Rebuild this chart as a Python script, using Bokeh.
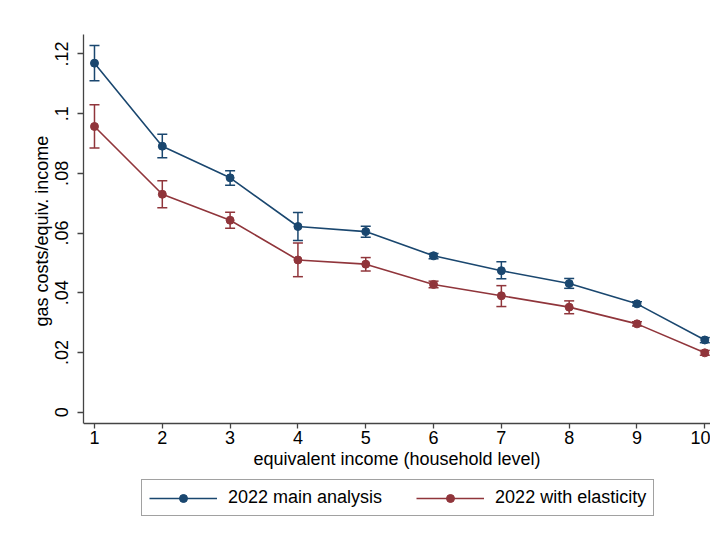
from bokeh.plotting import figure
from bokeh.models import (ColumnDataSource, Range1d, FixedTicker, Whisker,
                          TeeHead, Legend, LegendItem, Title)
from bokeh.embed import file_html
from bokeh.resources import INLINE

# income deciles
deciles = [1, 2, 3, 4, 5, 6, 7, 8, 9, 10]

# 2022 main analysis: mean and confidence interval
main_mean = [0.1169, 0.0891, 0.0785, 0.0622, 0.0605, 0.0524, 0.0474, 0.0431, 0.0363, 0.0242]
main_lo = [0.1110, 0.0852, 0.0760, 0.0575, 0.0586, 0.0514, 0.0447, 0.0415, 0.0356, 0.0233]
main_hi = [0.1228, 0.0931, 0.0809, 0.0669, 0.0623, 0.0532, 0.0504, 0.0448, 0.0370, 0.0250]

# 2022 with elasticity
elas_mean = [0.0957, 0.0730, 0.0643, 0.0510, 0.0496, 0.0428, 0.0390, 0.0352, 0.0296, 0.0199]
elas_lo = [0.0885, 0.0685, 0.0616, 0.0454, 0.0473, 0.0417, 0.0354, 0.0330, 0.0289, 0.0191]
elas_hi = [0.1030, 0.0775, 0.0670, 0.0567, 0.0518, 0.0439, 0.0424, 0.0373, 0.0303, 0.0207]

y_ticks = [0, 0.02, 0.04, 0.06, 0.08, 0.1, 0.12]
y_tick_labels = ["0", ".02", ".04", ".06", ".08", ".1", ".12"]

FONT = "Liberation Sans"
AXIS_COL = "#444444"
Y_BOTTOM, Y_TOP = -0.0037, 0.1265

# the frame runs down to the canvas bottom so the legend isn't clipped;
# the x axis is pinned at the bottom of the data area instead
p = figure(width=710, height=533, output_backend="svg",
           toolbar_location=None,
           x_range=Range1d(0.838, 10.084), y_range=Range1d(-0.0406, Y_TOP),
           min_border_left=83, min_border_right=0, min_border_top=34,
           min_border_bottom=0)
p.outline_line_color = None
p.grid.visible = False
p.background_fill_color = "white"
p.border_fill_color = "white"

series = [
    ("2022 main analysis", main_mean, main_lo, main_hi, "#1a476f"),
    ("2022 with elasticity", elas_mean, elas_lo, elas_hi, "#90353b"),
]

items = []
for name, mean, lo, hi, col in series:
    src = ColumnDataSource(dict(x=deciles, y=mean, lo=lo, hi=hi))
    w = Whisker(base="x", upper="hi", lower="lo", source=src,
                line_color=col, line_width=1.5, level="glyph",
                upper_head=TeeHead(size=10, line_color=col, line_width=1.5),
                lower_head=TeeHead(size=10, line_color=col, line_width=1.5))
    p.add_layout(w)
    ln = p.line("x", "y", source=src, line_color=col, line_width=1.6)
    pt = p.scatter("x", "y", source=src, size=8, fill_color=col, line_color=col)
    items.append(LegendItem(label=name, renderers=[ln, pt]))

# axes
p.xaxis.ticker = FixedTicker(ticks=deciles)
p.xaxis.fixed_location = Y_BOTTOM
p.yaxis.ticker = FixedTicker(ticks=y_ticks)
p.yaxis.bounds = (Y_BOTTOM, Y_TOP)
p.yaxis.major_label_overrides = dict(zip(y_ticks, y_tick_labels))
p.yaxis.major_label_orientation = "parallel"
p.xaxis.axis_label = "equivalent income (household level)"

for ax in (p.xaxis, p.yaxis):
    ax.axis_line_color = AXIS_COL
    ax.axis_line_width = 1.3
    ax.major_tick_line_color = AXIS_COL
    ax.major_tick_line_width = 1.3
    ax.major_tick_in = 0
    ax.major_tick_out = 5
    ax.minor_tick_line_color = None
    ax.major_label_text_font = FONT
    ax.major_label_text_font_size = "18px"
    ax.major_label_text_color = "black"
    ax.axis_label_text_font = FONT
    ax.axis_label_text_font_size = "18px"
    ax.axis_label_text_font_style = "normal"
    ax.axis_label_text_color = "black"

p.xaxis.major_label_standoff = 3
p.xaxis.axis_label_standoff = 1
p.yaxis.major_tick_out = 6
p.yaxis.major_label_standoff = 9

# y label as a side title, placed so it is centred on the data area
ytitle = Title(text="gas costs/equiv. income", align="left", offset=207,
               standoff=2, text_font=FONT, text_font_size="18px",
               text_font_style="normal", text_color="black")
p.add_layout(ytitle, "left")

legend = Legend(items=items, orientation="horizontal", location=(58, 17),
                label_text_font=FONT, label_text_font_size="18px",
                label_text_color="black",
                glyph_width=68, glyph_height=20, label_standoff=11,
                spacing=34, padding=7, margin=0,
                border_line_color=AXIS_COL, border_line_width=1.3)
p.add_layout(legend)

open("out.html", "w").write(file_html(p, INLINE))
